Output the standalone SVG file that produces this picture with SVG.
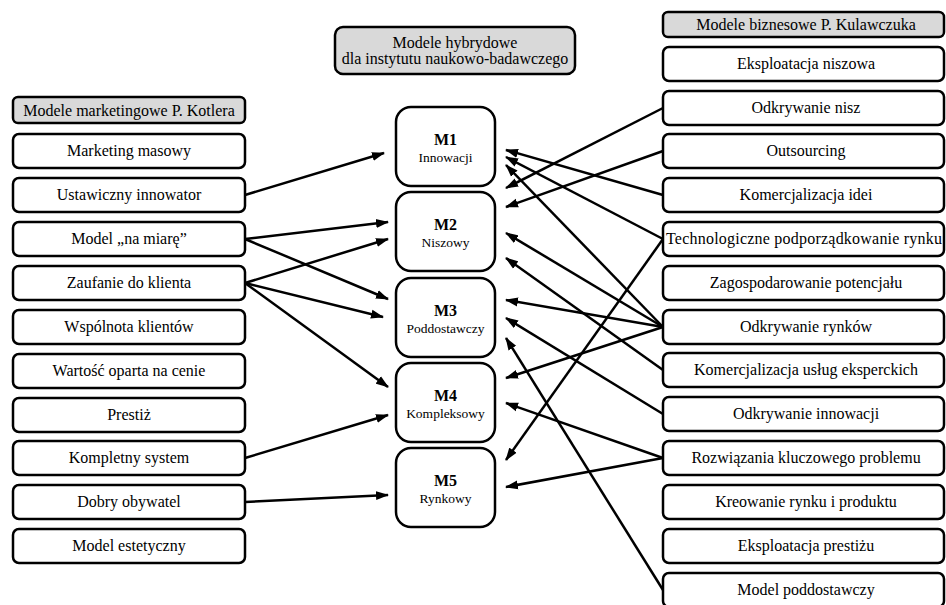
<svg xmlns="http://www.w3.org/2000/svg" width="946" height="605" viewBox="0 0 946 605">
<style>
text{font-family:"Liberation Serif","Times New Roman",serif;fill:#000;text-anchor:middle}
.t{font-size:16px}
.s{font-size:13.5px}
.b{font-size:16px;font-weight:bold}
.box{fill:#fff;stroke:#000;stroke-width:2.5}
.hdr{fill:#d9d9d9;stroke:#000;stroke-width:2.5}
.m{fill:#fff;stroke:#000;stroke-width:2.5}
.c line{stroke:#000;stroke-width:2.5;marker-end:url(#ah)}
</style>
<defs>
<marker id="ah" markerUnits="userSpaceOnUse" markerWidth="13" markerHeight="10" refX="12" refY="5" orient="auto">
<path d="M0,0.5 L13,5 L0,9.5 z" fill="#000"/>
</marker>
</defs>
<rect width="946" height="605" fill="#fff"/>

<g id="hdr-mid"><rect class="hdr" x="335" y="27" width="240" height="47" rx="8"/><text class="t" x="455" y="48">Modele hybrydowe</text><text class="t" x="455" y="64">dla instytutu naukowo-badawczego</text></g>
<g id="hdr-left"><rect class="hdr" x="13" y="97" width="232" height="26" rx="5"/><text class="t" x="129" y="115.5">Modele marketingowe P. Kotlera</text></g>
<g id="hdr-right"><rect class="hdr" x="663" y="12" width="281" height="25" rx="5"/><text class="t" x="806" y="30">Modele biznesowe P. Kulawczuka</text></g>

<g id="L1"><rect class="box" x="13" y="134" width="232" height="34" rx="6"/><text class="t" x="129" y="156">Marketing masowy</text></g>
<g id="L2"><rect class="box" x="13" y="178" width="232" height="34" rx="6"/><text class="t" x="129" y="200">Ustawiczny innowator</text></g>
<g id="L3"><rect class="box" x="13" y="222" width="232" height="34" rx="6"/><text class="t" x="129" y="244">Model „na miarę”</text></g>
<g id="L4"><rect class="box" x="13" y="266" width="232" height="34" rx="6"/><text class="t" x="129" y="288">Zaufanie do klienta</text></g>
<g id="L5"><rect class="box" x="13" y="310" width="232" height="34" rx="6"/><text class="t" x="129" y="332">Wspólnota klientów</text></g>
<g id="L6"><rect class="box" x="13" y="354" width="232" height="34" rx="6"/><text class="t" x="129" y="376">Wartość oparta na cenie</text></g>
<g id="L7"><rect class="box" x="13" y="398" width="232" height="34" rx="6"/><text class="t" x="129" y="420">Prestiż</text></g>
<g id="L8"><rect class="box" x="13" y="441" width="232" height="34" rx="6"/><text class="t" x="129" y="463">Kompletny system</text></g>
<g id="L9"><rect class="box" x="13" y="485" width="232" height="34" rx="6"/><text class="t" x="129" y="507">Dobry obywatel</text></g>
<g id="L10"><rect class="box" x="13" y="529" width="232" height="34" rx="6"/><text class="t" x="129" y="551">Model estetyczny</text></g>

<g id="M1"><rect class="m" x="396" y="107" width="99" height="79" rx="15"/><text class="b" x="445.5" y="145">M1</text><text class="s" x="445.5" y="162">Innowacji</text></g>
<g id="M2"><rect class="m" x="396" y="192" width="99" height="79" rx="15"/><text class="b" x="445.5" y="230">M2</text><text class="s" x="445.5" y="247">Niszowy</text></g>
<g id="M3"><rect class="m" x="396" y="278" width="99" height="79" rx="15"/><text class="b" x="445.5" y="316">M3</text><text class="s" x="445.5" y="333">Poddostawczy</text></g>
<g id="M4"><rect class="m" x="396" y="363" width="99" height="79" rx="15"/><text class="b" x="445.5" y="401">M4</text><text class="s" x="445.5" y="418">Kompleksowy</text></g>
<g id="M5"><rect class="m" x="396" y="448" width="99" height="79" rx="15"/><text class="b" x="445.5" y="486">M5</text><text class="s" x="445.5" y="503">Rynkowy</text></g>

<g id="R1"><rect class="box" x="663" y="47" width="281" height="34" rx="6"/><text class="t" x="806" y="69">Eksploatacja niszowa</text></g>
<g id="R2"><rect class="box" x="663" y="91" width="281" height="34" rx="6"/><text class="t" x="806" y="113">Odkrywanie nisz</text></g>
<g id="R3"><rect class="box" x="663" y="134" width="281" height="34" rx="6"/><text class="t" x="806" y="156">Outsourcing</text></g>
<g id="R4"><rect class="box" x="663" y="178" width="281" height="34" rx="6"/><text class="t" x="806" y="200">Komercjalizacja idei</text></g>
<g id="R5"><rect class="box" x="663" y="222" width="281" height="34" rx="6"/><text class="t" x="804" y="244" textLength="276" lengthAdjust="spacing">Technologiczne podporządkowanie rynku</text></g>
<g id="R6"><rect class="box" x="663" y="266" width="281" height="34" rx="6"/><text class="t" x="806" y="288">Zagospodarowanie potencjału</text></g>
<g id="R7"><rect class="box" x="663" y="310" width="281" height="34" rx="6"/><text class="t" x="806" y="332">Odkrywanie rynków</text></g>
<g id="R8"><rect class="box" x="663" y="353" width="281" height="34" rx="6"/><text class="t" x="806" y="375">Komercjalizacja usług eksperckich</text></g>
<g id="R9"><rect class="box" x="663" y="397" width="281" height="34" rx="6"/><text class="t" x="806" y="419">Odkrywanie innowacji</text></g>
<g id="R10"><rect class="box" x="663" y="441" width="281" height="34" rx="6"/><text class="t" x="806" y="463">Rozwiązania kluczowego problemu</text></g>
<g id="R11"><rect class="box" x="663" y="485" width="281" height="34" rx="6"/><text class="t" x="806" y="507">Kreowanie rynku i produktu</text></g>
<g id="R12"><rect class="box" x="663" y="529" width="281" height="34" rx="6"/><text class="t" x="806" y="551">Eksploatacja prestiżu</text></g>
<g id="R13"><rect class="box" x="663" y="573" width="281" height="34" rx="6"/><text class="t" x="806" y="595">Model poddostawczy</text></g>

<g id="connectors" class="c">
<line x1="245" y1="195" x2="384" y2="153"/>
<line x1="245" y1="239" x2="388" y2="222"/>
<line x1="245" y1="283" x2="388" y2="239"/>
<line x1="245" y1="239" x2="388" y2="299"/>
<line x1="245" y1="283" x2="383" y2="317"/>
<line x1="245" y1="283" x2="388" y2="387"/>
<line x1="245" y1="458" x2="388" y2="415"/>
<line x1="245" y1="502" x2="388" y2="495"/>
<line x1="663" y1="108" x2="506" y2="188"/>
<line x1="663" y1="151" x2="506" y2="207"/>
<line x1="663" y1="195" x2="506" y2="150"/>
<line x1="663" y1="239" x2="506" y2="157"/>
<line x1="663" y1="239" x2="506" y2="460"/>
<line x1="663" y1="327" x2="506" y2="165"/>
<line x1="663" y1="327" x2="506" y2="233"/>
<line x1="663" y1="327" x2="506" y2="300"/>
<line x1="663" y1="327" x2="506" y2="378"/>
<line x1="663" y1="370" x2="506" y2="258"/>
<line x1="663" y1="414" x2="506" y2="318"/>
<line x1="663" y1="458" x2="506" y2="403"/>
<line x1="663" y1="458" x2="506" y2="487"/>
<line x1="663" y1="590" x2="506" y2="338"/>
</g>
</svg>
